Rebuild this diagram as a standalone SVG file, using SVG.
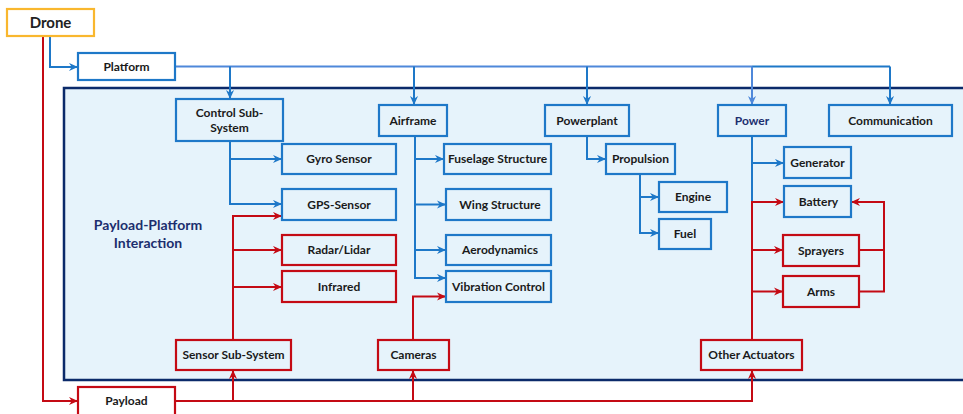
<svg xmlns="http://www.w3.org/2000/svg" width="963" height="414" viewBox="0 0 963 414">
  <defs>
    <style>
      .lbl { font-family: Lato, "Liberation Sans", sans-serif; font-weight: 700; font-size: 12px; fill: #1a1a1a; text-anchor: middle; }
      .bx { fill: none; stroke-width: 2.2; }
      .blue { stroke: #1E78C8; }
      .red { stroke: #C40A14; }
      .wfill { fill: #ffffff; }
      .cb { fill: none; stroke: #1E78C8; stroke-width: 2; }
      .cl { fill: none; stroke: #4F88DA; stroke-width: 2; }
      .cr { fill: none; stroke: #C40A14; stroke-width: 2; }
    </style>
    <marker id="ab" viewBox="0 0 10 10" refX="10" refY="5" markerWidth="9" markerHeight="9" markerUnits="userSpaceOnUse" orient="auto">
      <path d="M0,0.5 L10,5 L0,9.5 L3,5 Z" fill="#1E78C8"/>
    </marker>
    <marker id="al" viewBox="0 0 10 10" refX="10" refY="5" markerWidth="9" markerHeight="9" markerUnits="userSpaceOnUse" orient="auto">
      <path d="M0,0.5 L10,5 L0,9.5 L3,5 Z" fill="#4F88DA"/>
    </marker>
    <marker id="ar" viewBox="0 0 10 10" refX="10" refY="5" markerWidth="9" markerHeight="9" markerUnits="userSpaceOnUse" orient="auto">
      <path d="M0,0.5 L10,5 L0,9.5 L3,5 Z" fill="#C40A14"/>
    </marker>
  </defs>

  <rect width="963" height="414" fill="#ffffff"/>

  <!-- interaction panel -->
  <g id="panel">
    <rect x="64" y="88" width="910" height="292" fill="#E6F3FB" stroke="#0B2A6A" stroke-width="2.5"/>
    <text x="148" y="230" style="font-family: Lato, 'Liberation Sans', sans-serif; font-weight:700; font-size:14px; fill:#1C2E6E; text-anchor:middle">Payload-Platform</text>
    <text x="148" y="248" style="font-family: Lato, 'Liberation Sans', sans-serif; font-weight:700; font-size:14px; fill:#1C2E6E; text-anchor:middle">Interaction</text>
  </g>

  <!-- connectors -->
  <g id="connectors">
    <!-- drone to platform / payload -->
    <path class="cb" d="M50,36 V67 H78" marker-end="url(#ab)"/>
    <path class="cr" d="M43,36 V401 H78" marker-end="url(#ar)"/>

    <!-- platform bus -->
    <path class="cl" d="M175,66.5 H752"/>
    <path class="cb" d="M752,66.5 H890"/>
    <path class="cb" d="M230,66.5 V99" marker-end="url(#ab)"/>
    <path class="cb" d="M414,66.5 V105" marker-end="url(#ab)"/>
    <path class="cb" d="M587,66.5 V105" marker-end="url(#ab)"/>
    <path class="cl" d="M752,66.5 V105" marker-end="url(#al)"/>
    <path class="cb" d="M890,66.5 V105" marker-end="url(#ab)"/>

    <!-- control sub-system -->
    <path class="cb" d="M230,141 V204 H282" marker-end="url(#ab)"/>
    <path class="cb" d="M230,159 H282" marker-end="url(#ab)"/>

    <!-- airframe -->
    <path class="cb" d="M415,136 V278 H446" marker-end="url(#ab)"/>
    <path class="cb" d="M415,159 H444" marker-end="url(#ab)"/>
    <path class="cb" d="M415,204.5 H446" marker-end="url(#ab)"/>
    <path class="cb" d="M415,250 H446" marker-end="url(#ab)"/>

    <!-- powerplant -->
    <path class="cb" d="M587,136 V159 H606" marker-end="url(#ab)"/>
    <path class="cb" d="M640,174 V233 H659" marker-end="url(#ab)"/>
    <path class="cb" d="M640,197 H659" marker-end="url(#ab)"/>

    <!-- power -->
    <path class="cb" d="M752,136 V202"/>
    <path class="cb" d="M752,163 H784" marker-end="url(#ab)"/>

    <!-- payload bus -->
    <path class="cr" d="M175,401 H752 V370" marker-end="url(#ar)"/>
    <path class="cr" d="M233,401 V370" marker-end="url(#ar)"/>
    <path class="cr" d="M413,401 V370" marker-end="url(#ar)"/>

    <!-- sensor sub-system -->
    <path class="cr" d="M233,340 V216 H282" marker-end="url(#ar)"/>
    <path class="cr" d="M233,250 H282" marker-end="url(#ar)"/>
    <path class="cr" d="M233,287 H282" marker-end="url(#ar)"/>

    <!-- cameras -->
    <path class="cr" d="M413,340 V296.5 H446" marker-end="url(#ar)"/>

    <!-- other actuators -->
    <path class="cr" d="M752,340 V202 H784" marker-end="url(#ar)"/>
    <path class="cr" d="M752,250 H783" marker-end="url(#ar)"/>
    <path class="cr" d="M752,291.5 H783" marker-end="url(#ar)"/>
    <path class="cr" d="M859,250 H884"/>
    <path class="cr" d="M859,291.5 H884 V202 H851" marker-end="url(#ar)"/>
  </g>

  <!-- nodes -->
  <g id="drone">
    <rect x="7" y="9" width="87" height="27" fill="#ffffff" stroke="#F9B72E" stroke-width="2.2"/>
    <text x="50.5" y="28" style="font-family: Lato, 'Liberation Sans', sans-serif; font-weight:700; font-size:15px; fill:#222; text-anchor:middle">Drone</text>
  </g>
  <g id="platform">
    <rect class="bx blue wfill" x="78" y="53" width="97" height="27"/>
    <text class="lbl" x="126.5" y="71">Platform</text>
  </g>
  <g id="payload">
    <rect class="bx red wfill" x="78" y="387" width="97" height="30"/>
    <text class="lbl" x="126.5" y="405">Payload</text>
  </g>

  <g id="control-sub-system">
    <rect class="bx blue" x="176" y="99" width="107" height="42"/>
    <text class="lbl" x="229.5" y="117">Control Sub-</text>
    <text class="lbl" x="229.5" y="132">System</text>
  </g>
  <g id="airframe">
    <rect class="bx blue" x="379" y="105" width="68" height="31"/>
    <text class="lbl" x="413" y="125">Airframe</text>
  </g>
  <g id="powerplant">
    <rect class="bx blue" x="545" y="105" width="84" height="31"/>
    <text class="lbl" x="587" y="125">Powerplant</text>
  </g>
  <g id="power">
    <rect class="bx blue" x="718" y="105" width="68" height="31"/>
    <text class="lbl" x="752" y="125" style="fill:#1C2E6E">Power</text>
  </g>
  <g id="communication">
    <rect class="bx blue" x="829" y="105" width="123" height="31"/>
    <text class="lbl" x="890.5" y="125">Communication</text>
  </g>

  <g id="gyro-sensor">
    <rect class="bx blue" x="282" y="144" width="114" height="30"/>
    <text class="lbl" x="339" y="163">Gyro Sensor</text>
  </g>
  <g id="gps-sensor">
    <rect class="bx blue" x="282" y="189" width="114" height="31"/>
    <text class="lbl" x="339" y="209">GPS-Sensor</text>
  </g>
  <g id="radar-lidar">
    <rect class="bx red" x="282" y="235" width="114" height="30"/>
    <text class="lbl" x="339" y="254">Radar/Lidar</text>
  </g>
  <g id="infrared">
    <rect class="bx red" x="282" y="271" width="114" height="31"/>
    <text class="lbl" x="339" y="291">Infrared</text>
  </g>

  <g id="fuselage-structure">
    <rect class="bx blue" x="444" y="144" width="107" height="30"/>
    <text class="lbl" x="497.5" y="163">Fuselage Structure</text>
  </g>
  <g id="wing-structure">
    <rect class="bx blue" x="446" y="189" width="105" height="31"/>
    <text class="lbl" x="500" y="209">Wing Structure</text>
  </g>
  <g id="aerodynamics">
    <rect class="bx blue" x="446" y="235" width="105" height="30"/>
    <text class="lbl" x="500" y="254">Aerodynamics</text>
  </g>
  <g id="vibration-control">
    <rect class="bx blue" x="446" y="271" width="105" height="31"/>
    <text class="lbl" x="498.5" y="291">Vibration Control</text>
  </g>

  <g id="propulsion">
    <rect class="bx blue" x="606" y="144" width="69" height="30"/>
    <text class="lbl" x="640.5" y="163">Propulsion</text>
  </g>
  <g id="engine">
    <rect class="bx blue" x="659" y="182" width="68" height="30"/>
    <text class="lbl" x="693" y="201">Engine</text>
  </g>
  <g id="fuel">
    <rect class="bx blue" x="659" y="219" width="52" height="30"/>
    <text class="lbl" x="685" y="238">Fuel</text>
  </g>

  <g id="generator">
    <rect class="bx blue" x="784" y="147" width="67" height="31"/>
    <text class="lbl" x="817.5" y="167">Generator</text>
  </g>
  <g id="battery">
    <rect class="bx blue" x="784" y="186" width="67" height="31"/>
    <text class="lbl" x="818.5" y="206">Battery</text>
  </g>
  <g id="sprayers">
    <rect class="bx red" x="783" y="235" width="76" height="31"/>
    <text class="lbl" x="821" y="255">Sprayers</text>
  </g>
  <g id="arms">
    <rect class="bx red" x="783" y="276" width="76" height="31"/>
    <text class="lbl" x="821" y="296">Arms</text>
  </g>

  <g id="sensor-sub-system">
    <rect class="bx red" x="176" y="340" width="115" height="30"/>
    <text class="lbl" x="233.5" y="359">Sensor Sub-System</text>
  </g>
  <g id="cameras">
    <rect class="bx red" x="378" y="340" width="71" height="30"/>
    <text class="lbl" x="413.5" y="359">Cameras</text>
  </g>
  <g id="other-actuators">
    <rect class="bx red" x="701" y="340" width="101" height="30"/>
    <text class="lbl" x="751.5" y="359">Other Actuators</text>
  </g>
</svg>
